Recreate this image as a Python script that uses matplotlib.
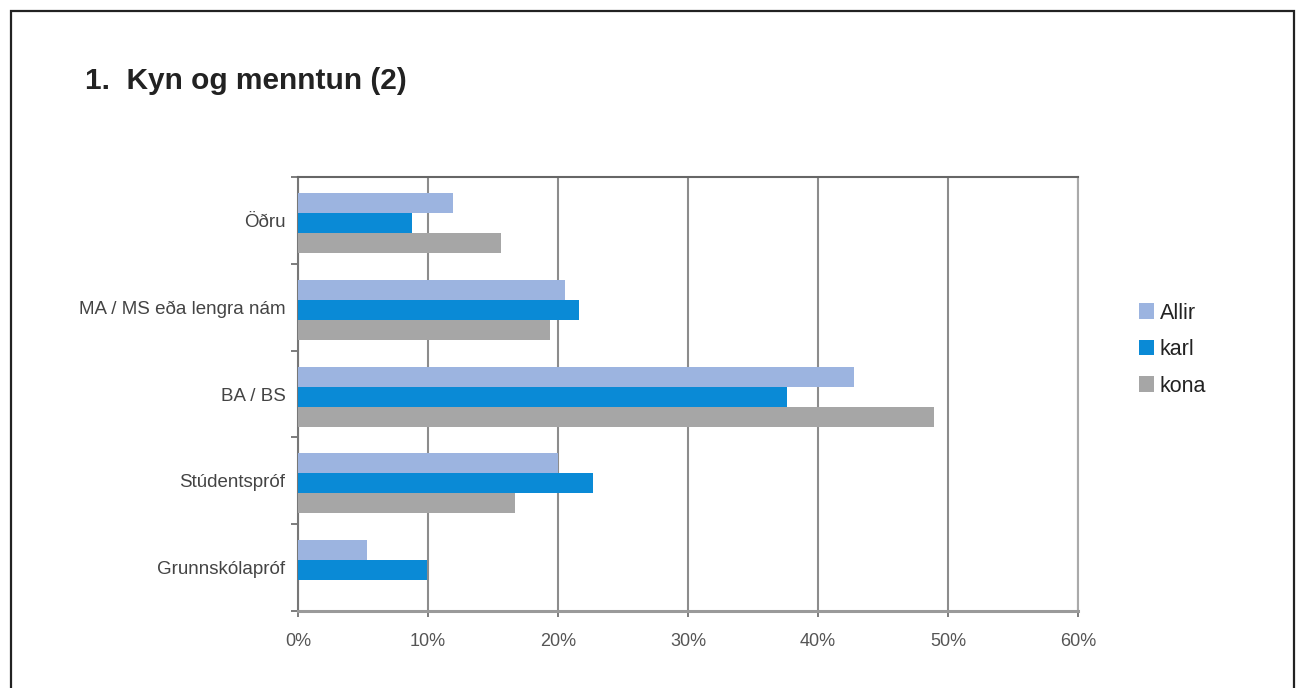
import numpy as np
import matplotlib
matplotlib.use("Agg")
import matplotlib.pyplot as plt
from matplotlib.patches import Patch, Rectangle
from matplotlib.ticker import FuncFormatter, FixedLocator

plt.rcParams['font.family'] = ['Liberation Sans', 'DejaVu Sans']

# data (percent)
categories = ["Öðru", "MA / MS eða lengra nám", "BA / BS", "Stúdentspróf", "Grunnskólapróf"]
allir = [11.9, 20.5, 42.8, 20.0, 5.3]
karl = [8.8, 21.6, 37.6, 22.7, 9.9]
kona = [15.6, 19.4, 48.9, 16.7, 0.0]
series_names = ["Allir", "karl", "kona"]
colors = ["#9cb4e0", "#0a8ad6", "#a6a6a6"]
x_ticks = [0, 10, 20, 30, 40, 50, 60]

fig = plt.figure(figsize=(12.98, 6.88), dpi=100)
fig.patch.set_facecolor("white")

# black frame around the slide
fig.patches.append(Rectangle((0.0085, -0.02), 0.9884, 1.004, transform=fig.transFigure,
                             fill=False, edgecolor="#222222", linewidth=1.6))

fig.text(0.0655, 0.871, "1.  Kyn og menntun (2)", fontsize=21.5, fontweight="bold",
         color="#222222", va="baseline", ha="left")

ax = fig.add_axes([0.2296, 0.1119, 0.6009, 0.6308])

y = np.arange(len(categories))
h = 0.23
for i, (vals, name, c) in enumerate(zip([allir, karl, kona], series_names, colors)):
    ax.barh(y + (i - 1) * h + 0.03, vals, height=h, color=c, label=name, zorder=3)

ax.set_xlim(0, 60)
ax.set_ylim(len(categories) - 0.5, -0.5)
ax.set_xticks(x_ticks)
ax.xaxis.set_major_formatter(FuncFormatter(lambda v, p: f"{int(v)}%"))
ax.set_yticks(y)
ax.set_yticklabels(categories)
ax.yaxis.set_minor_locator(FixedLocator(np.arange(-0.5, len(categories), 1.0)))

ax.grid(axis="x", color="#8c8c8c", linewidth=1.5, zorder=1)
ax.tick_params(axis="y", which="major", length=0, pad=9, labelsize=13.5, labelcolor="#444444")
ax.tick_params(axis="y", which="minor", length=5, width=1.2, color="#666666", direction="out")
ax.tick_params(axis="x", length=4, width=1.2, color="#666666", direction="out",
               pad=12, labelsize=13, labelcolor="#555555")

ax.spines["left"].set_color("#777777")
ax.spines["left"].set_linewidth(1.5)
ax.spines["top"].set_color("#666666")
ax.spines["top"].set_linewidth(1.5)
ax.spines["bottom"].set_color("#9a9a9a")
ax.spines["bottom"].set_linewidth(2.2)
ax.spines["right"].set_color("#aaaaaa")
ax.spines["right"].set_linewidth(1.5)

handles = [Patch(facecolor=c, edgecolor="none") for c in colors]
fig.legend(handles, series_names, loc="center left", bbox_to_anchor=(0.8695, 0.492),
           frameon=False, fontsize=15.5, handlelength=0.7, handleheight=0.7,
           handletextpad=0.25, labelspacing=0.72, borderpad=0, labelcolor="#222222")

fig.savefig("out.png", dpi=100, facecolor="white")
